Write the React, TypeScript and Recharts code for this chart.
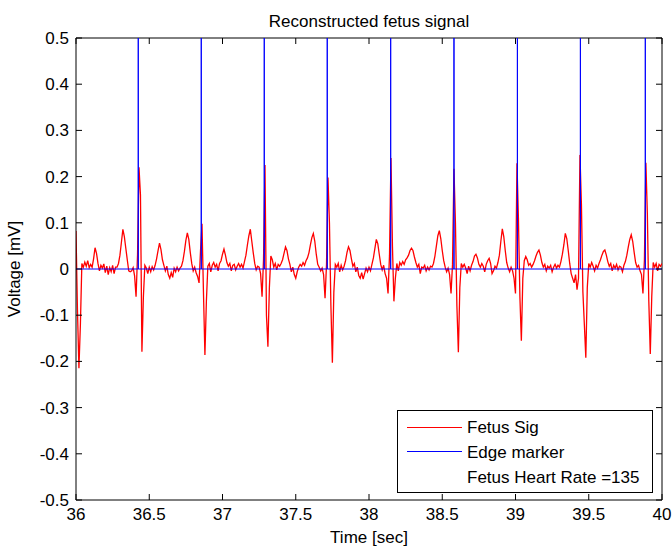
import { Label, Legend, Line, LineChart, ReferenceLine, XAxis, YAxis } from "recharts";

const TITLE = "Reconstructed fetus signal";
const X_LABEL = "Time [sec]";
const Y_LABEL = "Voltage [mV]";
const SERIES_NAMES = ["Fetus Sig", "Edge marker"];
const HEART_RATE_TEXT = "Fetus Heart Rate =135";

const X_TICKS = [36, 36.5, 37, 37.5, 38, 38.5, 39, 39.5, 40];
const Y_TICKS = [-0.5, -0.4, -0.3, -0.2, -0.1, 0, 0.1, 0.2, 0.3, 0.4, 0.5];

// fetus signal, sampled every 10 ms from 36.00 s (one row = 0.1 s)
const START_TIME = 36;
const SAMPLE_STEP = 0.01;
const FETUS_SIG = [
  0.082, -0.09, -0.215, -0.12, 0.012, 0.004, 0.015, 0.006, 0.018, 0.003,
  0.01, 0.004, 0.022, 0.046, 0.034, 0.012, -0.004, 0.008, 0.002, 0.011,
  -0.008, 0.006, -0.012, 0.003, -0.006, 0.008, -0.01, 0.004, 0.004, 0.012,
  0.03, 0.058, 0.086, 0.07, 0.045, 0.02, -0.004, -0.006, -0.004, 0.003,
  -0.015, -0.06, 0.03, 0.22, 0.16, -0.179, -0.06, 0.008, 0.002, -0.01,
  0.004, -0.006, 0.005, -0.002, 0.008, 0.022, 0.04, 0.056, 0.042, 0.02,
  0.008, -0.004, 0.006, -0.012, -0.02, -0.008, -0.018, 0.002, -0.006, 0.004,
  -0.004, 0.002, 0.006, 0.018, 0.038, 0.062, 0.078, 0.064, 0.036, 0.012,
  -0.004, 0.004, -0.008, -0.016, -0.03, 0.04, 0.098, -0.05, -0.186, -0.07,
  0.006, 0.012, -0.006, 0.008, 0.014, 0.004, 0.01, -0.004, 0.012, 0.018,
  0.032, 0.043, 0.03, 0.014, 0.006, 0.012, -0.004, 0.008, 0.01, -0.002,
  0.006, 0.012, 0.004, 0.01, 0.002, 0.016, 0.03, 0.052, 0.072, 0.086,
  0.06, 0.035, 0.012, -0.002, 0.006, 0.004, -0.01, -0.06, 0.02, 0.225,
  -0.1, -0.168, -0.04, 0.028, 0.02, 0.004, 0.012, -0.002, 0.01, 0.006,
  0.012, 0.02, 0.034, 0.048, 0.04, 0.022, 0.01, -0.006, 0.004, -0.012,
  -0.02, -0.006, 0.004, 0.01, 0.006, 0.014, 0.008, 0.018, 0.024, 0.035,
  0.052, 0.068, 0.077, 0.06, 0.032, 0.01, 0.004, -0.004, 0.002, -0.012,
  -0.063, 0.01, 0.198, 0.1, -0.08, -0.203, -0.05, 0.01, 0.004, 0.012,
  -0.006, 0.008, -0.002, 0.006, 0.018, 0.036, 0.048, 0.04, 0.022, 0.006,
  0.012, -0.006, 0.004, -0.014, -0.02, -0.008, -0.022, -0.01, 0.002, -0.006,
  0.004, -0.004, 0.01, 0.024, 0.044, 0.064, 0.055, 0.032, 0.01, -0.002,
  0.008, -0.01, -0.02, -0.053, 0.03, 0.24, 0.05, -0.07, -0.02, 0.012,
  -0.004, 0.014, 0.008, 0.016, 0.01, 0.02, 0.024, 0.03, 0.04, 0.045,
  0.04, 0.026, 0.014, 0.004, 0.01, -0.01, 0.004, 0.002, 0.008, -0.004,
  0.004, -0.002, 0.006, 0.004, 0.012, 0.028, 0.05, 0.072, 0.083, 0.066,
  0.04, 0.018, 0.004, -0.006, 0.002, -0.012, -0.053, 0.01, 0.217, 0.1,
  -0.08, -0.18, -0.04, 0.012, 0.004, 0.01, 0.002, -0.01, 0.006, -0.004,
  0.008, 0.016, 0.028, 0.032, 0.024, 0.01, 0.004, 0.012, 0.006, -0.006,
  0.01, 0.018, 0.023, 0.012, -0.01, -0.004, 0.006, 0.002, 0.014, 0.03,
  0.06, 0.087, 0.07, 0.04, 0.014, 0.002, -0.006, 0.004, -0.004, -0.02,
  -0.053, 0.229, 0.11, -0.06, -0.155, -0.02, 0.018, 0.027, 0.02, 0.008,
  0.012, 0.004, 0.01, 0.018, 0.028, 0.036, 0.041, 0.03, 0.014, 0.004,
  0.01, -0.004, 0.006, 0.002, 0.008, -0.006, 0.004, 0.01, 0.002, 0.008,
  0.004, 0.016, 0.032, 0.052, 0.077, 0.066, 0.04, 0.012, -0.01, -0.02,
  -0.03, -0.012, -0.045, -0.02, 0.247, 0.14, -0.05, -0.12, -0.192, -0.04,
  0.012, 0.004, 0.014, 0.006, -0.004, 0.008, 0.002, 0.012, 0.02, 0.03,
  0.038, 0.041, 0.03, 0.016, 0.006, 0.012, -0.004, 0.008, 0.002, 0.01,
  -0.002, 0.006, 0.004, -0.006, 0.008, 0.016, 0.03, 0.048, 0.064, 0.074,
  0.06, 0.036, 0.014, 0.004, 0.008, -0.004, -0.012, -0.053, 0.02, 0.23,
  0.12, -0.07, -0.184, -0.06, 0.014, 0.004, 0.012, -0.004, 0.01, 0.006,
  0.012,
];

// detected R-peak edges (sec) and marker height
const EDGE_TIMES = [36.425, 36.855, 37.285, 37.715, 38.148, 38.58, 39.013, 39.443, 39.886];
const EDGE_HIGH = 0.5;

const RED = "#ff0000";
const BLUE = "#0000ff";
const FONT = '"Liberation Sans", Arial, Helvetica, sans-serif';

const W = 672;
const H = 550;
const MARGIN = { top: 38, right: 10, bottom: 0, left: 0 };
const Y_AXIS_W = 76;
const X_AXIS_H = 50;
const TICK_LEN = 6;
const X_TICK_GAP = 8;
const Y_TICK_GAP = 7;

const sigData = FETUS_SIG.map((v, i) => ({
  t: Number((START_TIME + i * SAMPLE_STEP).toFixed(2)),
  v,
}));

const edgeData = [{ t: START_TIME, v: 0 }];
EDGE_TIMES.forEach((t) => {
  edgeData.push({ t, v: 0 }, { t, v: EDGE_HIGH }, { t, v: 0 });
});
edgeData.push({ t: 40, v: 0 });

const fmtY = (v: number) => (v === 0 ? "0" : v.toFixed(1));

// matlab style: ticks point inward, also on the opposite side of the box
const plotTop = MARGIN.top;
const plotRight = W - MARGIN.right;

function XTick({ x, y, payload }: any) {
  const base = y - X_TICK_GAP;
  return (
    <g>
      <path
        d={`M${x},${base}V${base - TICK_LEN}M${x},${plotTop}V${plotTop + TICK_LEN}`}
        stroke="#000"
        strokeWidth={1}
        fill="none"
      />
      <text x={x} y={y} dy="0.71em" textAnchor="middle" fontSize={17} fill="#000">
        {payload.value}
      </text>
    </g>
  );
}

function YTick({ x, y, payload }: any) {
  const base = x + Y_TICK_GAP;
  return (
    <g>
      <path
        d={`M${base},${y}H${base + TICK_LEN}M${plotRight},${y}H${plotRight - TICK_LEN}`}
        stroke="#000"
        strokeWidth={1}
        fill="none"
      />
      <text x={x} y={y} dy="0.355em" textAnchor="end" fontSize={17} fill="#000">
        {fmtY(payload.value)}
      </text>
    </g>
  );
}

function YTitle({ viewBox }: any) {
  const x = viewBox.x + 20;
  const y = viewBox.y + viewBox.height / 2;
  return (
    <text
      x={x}
      y={y}
      transform={`rotate(-90 ${x} ${y})`}
      textAnchor="middle"
      fontSize={17}
      fill="#000"
      fontFamily={FONT}
    >
      {Y_LABEL}
    </text>
  );
}

function LegendBox() {
  const colors = [RED, BLUE];
  return (
    <svg width={256} height={83} style={{ display: "block", fontFamily: FONT }}>
      <rect x={0.5} y={0.5} width={255} height={82} fill="#fff" stroke="#000" />
      {SERIES_NAMES.map((name, i) => (
        <g key={name}>
          <line x1={10} x2={65} y1={17.5 + i * 24} y2={17.5 + i * 24} stroke={colors[i]} />
          <text x={70} y={23 + i * 25} fontSize={17} fill="#000">
            {name}
          </text>
        </g>
      ))}
      <text x={70} y={73} fontSize={17} fill="#000">
        {HEART_RATE_TEXT}
      </text>
    </svg>
  );
}

export default function App() {
  return (
    <div style={{ position: "absolute", left: 0, top: 0, background: "#fff" }}>
      <LineChart width={W} height={H} margin={MARGIN} style={{ fontFamily: FONT }}>
        <XAxis
          dataKey="t"
          type="number"
          domain={[36, 40]}
          ticks={X_TICKS}
          interval={0}
          allowDataOverflow
          height={X_AXIS_H}
          stroke="#000"
          tickLine={false}
          tickSize={0}
          tickMargin={X_TICK_GAP}
          tick={<XTick />}
        >
          <Label value={X_LABEL} position="insideBottom" offset={7} fill="#000" fontSize={17} />
        </XAxis>
        <YAxis
          type="number"
          domain={[-0.5, 0.5]}
          ticks={Y_TICKS}
          interval={0}
          allowDataOverflow
          width={Y_AXIS_W}
          stroke="#000"
          tickLine={false}
          tickSize={0}
          tickMargin={Y_TICK_GAP}
          tick={<YTick />}
        >
          <Label content={YTitle} />
        </YAxis>
        <ReferenceLine
          y={0.5}
          stroke="#000"
          label={{ value: TITLE, position: "top", offset: 11, fill: "#000", fontSize: 17 }}
        />
        <ReferenceLine x={40} stroke="#000" />
        <Legend
          layout="horizontal"
          verticalAlign="middle"
          align="center"
          content={<LegendBox />}
          wrapperStyle={{ left: 397, top: 410, width: 256, height: 83 }}
        />
        <Line
          name={SERIES_NAMES[0]}
          data={sigData}
          dataKey="v"
          type="linear"
          stroke={RED}
          strokeWidth={1.3}
          dot={false}
          isAnimationActive={false}
        />
        <Line
          name={SERIES_NAMES[1]}
          data={edgeData}
          dataKey="v"
          type="linear"
          stroke={BLUE}
          strokeWidth={1}
          dot={false}
          isAnimationActive={false}
        />
      </LineChart>
    </div>
  );
}
